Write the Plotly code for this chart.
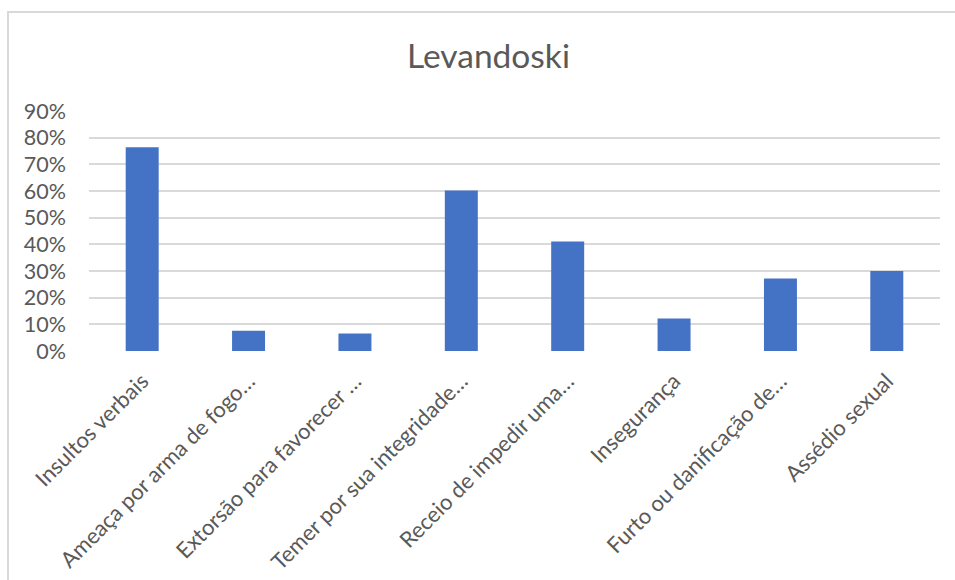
import plotly.graph_objects as go

categories = [
    "Insultos verbais",
    "Ameaça por arma de fogo…",
    "Extorsão para favorecer …",
    "Temer por sua integridade…",
    "Receio de impedir uma…",
    "Insegurança",
    "Furto ou danificação de…",
    "Assédio sexual",
]
values = [0.764, 0.076, 0.066, 0.602, 0.411, 0.122, 0.272, 0.300]
y_ticks = [0, 0.1, 0.2, 0.3, 0.4, 0.5, 0.6, 0.7, 0.8, 0.9]
y_tick_labels = ["0%", "10%", "20%", "30%", "40%", "50%", "60%", "70%", "80%", "90%"]
title_text = "Levandoski"

W, H = 955, 580
L, R, T, B = 89, 15, 111, 229
pw = W - L - R
ph = H - T - B

def px_to_paper_x(px):
    return (px - L) / pw

def py_to_paper_y(py):
    return (H - B - py) / ph

fig = go.Figure(
    go.Bar(
        x=categories,
        y=values,
        marker=dict(color="#4472C4", line=dict(width=0)),
        hoverinfo="x+y",
    )
)

fig.update_layout(
    width=W,
    height=H,
    margin=dict(l=L, r=R, t=T, b=B, autoexpand=False),
    paper_bgcolor="white",
    plot_bgcolor="white",
    bargap=0.69,
    showlegend=False,
    font=dict(family="Lato, Carlito, sans-serif", color="#595959"),
    title=dict(
        text=title_text,
        x=488.5 / W,
        xanchor="center",
        yref="container",
        y=1 - 56 / H,
        yanchor="middle",
        font=dict(size=33.5, color="#595959", family="Lato, sans-serif"),
    ),
    xaxis=dict(
        tickangle=-45,
        tickfont=dict(size=22, color="#595959"),
        showgrid=False,
        showline=False,
        zeroline=False,
        ticks="",
        ticklabelstandoff=12,
        automargin=False,
    ),
    yaxis=dict(
        range=[0, 0.9],
        tickvals=y_ticks,
        ticktext=y_tick_labels,
        tickfont=dict(size=21.5, color="#595959"),
        showgrid=True,
        gridcolor="#d9d9d9",
        gridwidth=2,
        zeroline=False,
        showline=False,
        ticks="",
        ticklabelstandoff=22,
        automargin=False,
    ),
    shapes=[
        dict(
            type="rect",
            xref="paper",
            yref="paper",
            x0=px_to_paper_x(8),
            x1=px_to_paper_x(1000),
            y0=py_to_paper_y(640),
            y1=py_to_paper_y(12),
            line=dict(color="#d9d9d9", width=2),
            fillcolor="rgba(0,0,0,0)",
            layer="below",
        )
    ],
)

fig.write_html("out.html")
